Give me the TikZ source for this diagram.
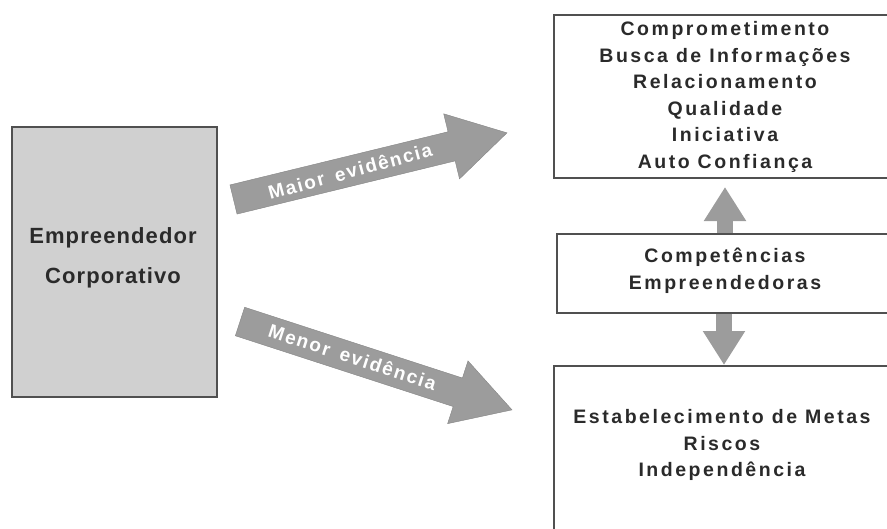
\documentclass[tikz,border=0pt]{standalone}
\usepackage{fontspec}
\setmainfont{Liberation Sans}
\newfontfamily\spacedfont[LetterSpace=13]{Liberation Sans}
\newfontfamily\arrowfont[LetterSpace=9]{Liberation Sans}
\newfontfamily\leftfont[LetterSpace=5]{Liberation Sans}
\usetikzlibrary{arrows.meta,calc}
\definecolor{boxline}{HTML}{505050}
\definecolor{txt}{HTML}{2A2A2A}
\definecolor{agray}{HTML}{9C9C9C}
\definecolor{lfill}{HTML}{D0D0D0}
\begin{document}
\begin{tikzpicture}[x=1pt,y=-1pt,
  boxtext/.style={font=\spacedfont\bfseries\fontsize{19.5}{26.5}\selectfont, text=txt, align=center, inner sep=0pt},
  frame/.style={draw=boxline, line width=1.6pt, inner sep=0pt},
  bigarrow/.style={fill=agray, draw=agray!85!black, line width=0.4pt},
  arrowtext/.style={font=\arrowfont\bfseries\fontsize{19}{21}\selectfont, text=white, inner sep=0pt, transform shape},
  vconn/.style={draw=agray, line width=16pt, -{Triangle[width=40pt,length=34pt]}}
]
\useasboundingbox (0,0) rectangle (887,528);
\clip (0,0) rectangle (887,528);

% left box
\node[frame, line width=2pt, fill=lfill, minimum width=205pt, minimum height=270pt] (emp) at (114.5,262) {};
\node[font=\leftfont\bfseries\fontsize{22}{40}\selectfont, text=txt, align=center, inner sep=0pt] (emptext) at (113,258) {Empreendedor\\Corporativo};

% right boxes
\node[frame, anchor=north west, minimum width=344pt, minimum height=163pt] (topbox) at (553,14) {};
\node[frame, anchor=north west, minimum width=340pt, minimum height=79pt] (midbox) at (556,233) {};
\node[frame, anchor=north west, minimum width=344pt, minimum height=200pt] (botbox) at (553,365) {};

\node[boxtext] (toptext) at (725,97) {Comprometimento\\Busca de Informações\\Relacionamento\\Qualidade\\Iniciativa\\Auto Confiança};
\node[boxtext] (midtext) at (725,270.5) {Competências\\Empreendedoras};
\node[boxtext] (bottext) at (722,445) {Estabelecimento de Metas\\Riscos\\Independência};

% vertical connectors
\coordinate (upend) at (725,187);
\coordinate (dnend) at (724,365);
\draw[vconn] (midbox.north -| upend) -- (upend);
\draw[vconn] (midbox.south -| dnend) -- (dnend);

% diagonal arrows
\begin{scope}[shift={(233.5,199.5)}, rotate=13.7]
  \fill[bigarrow] (0,-15) -- (224.5,-15) -- (224.5,-33.5) -- (281.5,0) -- (224.5,33.5) -- (224.5,15) -- (0,15) -- cycle;
  \node[arrowtext, rotate=1.5] (maior) at (120,0) {Maior\hspace{4pt} evidência};
\end{scope}
\begin{scope}[shift={(240,321.5)}, rotate=-18]
  \fill[bigarrow] (0,-15) -- (229,-15) -- (229,-33) -- (286,0) -- (229,33) -- (229,15) -- (0,15) -- cycle;
  \node[arrowtext] (menor) at (118,-1) {Menor\hspace{4pt} evidência};
\end{scope}
\end{tikzpicture}
\end{document}
